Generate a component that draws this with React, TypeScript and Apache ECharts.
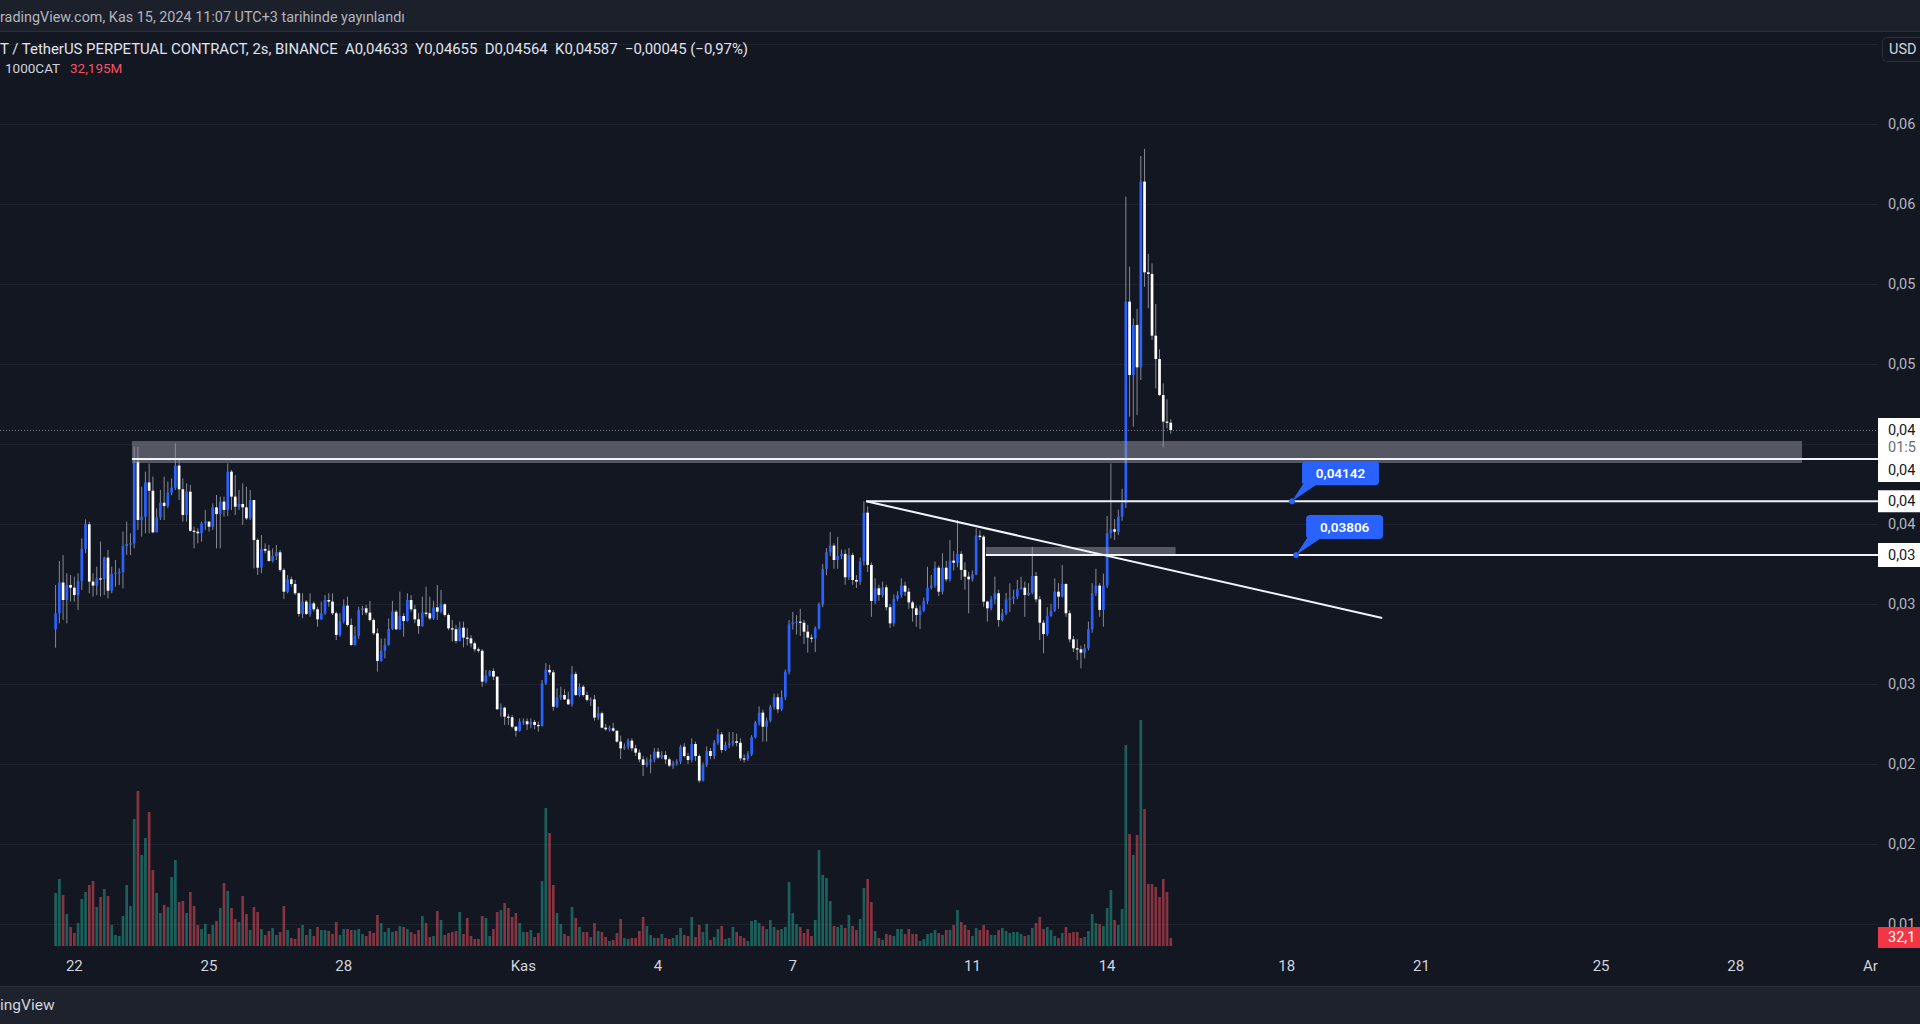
import React, { useEffect, useRef } from "react";
import * as echarts from "echarts";

// ---------- data ----------
const tickIdx = [5, 41, 77, 125, 161, 197, 245, 281, 329, 365, 413, 449, 485];
const tickLabels = ["22", "25", "28", "Kas", "4", "7", "11", "14", "18", "21", "25", "28", "Ar"];

const firstOpen = 0.03342;
const closes = [
  0.03442, 0.03635, 0.03525, 0.03619, 0.03602, 0.03556, 0.03644, 0.03844, 0.03998, 0.0364,
  0.03615, 0.0366, 0.03656, 0.0379, 0.03583, 0.03688, 0.03696, 0.037, 0.03862, 0.03875,
  0.03879, 0.0439, 0.04025, 0.04046, 0.0426, 0.04208, 0.03948, 0.04042, 0.04133, 0.04113,
  0.04196, 0.04227, 0.04365, 0.04217, 0.04056, 0.04202, 0.03958, 0.03952, 0.03942, 0.04004,
  0.04015, 0.03983, 0.04104, 0.04062, 0.0414, 0.04088, 0.04327, 0.04171, 0.04108, 0.04125,
  0.04104, 0.04035, 0.0415, 0.039, 0.03727, 0.03844, 0.03833, 0.03769, 0.038, 0.03823,
  0.03713, 0.03577, 0.03654, 0.03625, 0.03567, 0.03438, 0.03515, 0.03438, 0.03504, 0.03467,
  0.03404, 0.03442, 0.03525, 0.03515, 0.03442, 0.03306, 0.0339, 0.0349, 0.03369, 0.03244,
  0.033, 0.03463, 0.03473, 0.03446, 0.034, 0.03317, 0.03144, 0.03208, 0.03244, 0.03344,
  0.03452, 0.03342, 0.03425, 0.03394, 0.03525, 0.03467, 0.03404, 0.03362, 0.03446, 0.03442,
  0.0341, 0.03479, 0.03452, 0.03498, 0.03431, 0.03348, 0.03342, 0.03269, 0.03352, 0.0329,
  0.03285, 0.03254, 0.03217, 0.03208, 0.03015, 0.03052, 0.03081, 0.03046, 0.02842, 0.02852,
  0.02796, 0.02792, 0.02733, 0.02708, 0.02765, 0.02767, 0.02748, 0.02763, 0.02744, 0.02738,
  0.03004, 0.03088, 0.03073, 0.02858, 0.02917, 0.02931, 0.02904, 0.02873, 0.03063, 0.02931,
  0.02983, 0.02931, 0.029, 0.02904, 0.0279, 0.02817, 0.02727, 0.02717, 0.02723, 0.02708,
  0.0264, 0.02598, 0.02608, 0.02646, 0.02598, 0.02571, 0.02529, 0.02494, 0.0251, 0.02529,
  0.02577, 0.0254, 0.02556, 0.02529, 0.0249, 0.02504, 0.02515, 0.02608, 0.0255, 0.02525,
  0.02625, 0.0255, 0.02396, 0.02494, 0.02581, 0.0255, 0.02633, 0.02685, 0.02588, 0.02619,
  0.02629, 0.02642, 0.02633, 0.02535, 0.02533, 0.0256, 0.02667, 0.02758, 0.02821, 0.02733,
  0.02771, 0.02858, 0.02917, 0.02842, 0.02917, 0.03077, 0.03373, 0.03385, 0.0339, 0.03383,
  0.03327, 0.0329, 0.03285, 0.03348, 0.03498, 0.03719, 0.03823, 0.03865, 0.03775, 0.038,
  0.03813, 0.03667, 0.03806, 0.0365, 0.0364, 0.03765, 0.04071, 0.03744, 0.03519, 0.03598,
  0.03556, 0.03604, 0.0348, 0.03379, 0.03531, 0.03556, 0.03615, 0.03577, 0.0351, 0.03473,
  0.03431, 0.03458, 0.03517, 0.03602, 0.03615, 0.03727, 0.03577, 0.03727, 0.03654, 0.03771,
  0.03758, 0.03813, 0.03713, 0.03671, 0.03654, 0.03685, 0.03927, 0.03921, 0.03515, 0.03473,
  0.03529, 0.03567, 0.034, 0.03442, 0.03529, 0.03535, 0.03546, 0.03592, 0.03602, 0.03556,
  0.03571, 0.03675, 0.03529, 0.03383, 0.03312, 0.03425, 0.03458, 0.03577, 0.03546, 0.03625,
  0.03442, 0.03279, 0.03223, 0.03217, 0.03196, 0.03223, 0.03342, 0.03567, 0.03615, 0.03463,
  0.03615, 0.03942, 0.03967, 0.03952, 0.04046, 0.04129, 0.0539, 0.04931, 0.05244, 0.04979,
  0.0614, 0.05573, 0.05563, 0.05177, 0.05031, 0.04806, 0.0464, 0.04633, 0.04587,
];
const highs = [
  0.03619, 0.03769, 0.03806, 0.03692, 0.03681, 0.03671, 0.03692, 0.0391, 0.04029, 0.04015,
  0.03692, 0.03733, 0.0389, 0.03796, 0.03838, 0.03733, 0.03775, 0.03723, 0.03952, 0.04015,
  0.03942, 0.04483, 0.04483, 0.04233, 0.04327, 0.04379, 0.04296, 0.04098, 0.04213, 0.04296,
  0.04265, 0.04285, 0.04504, 0.0441, 0.04285, 0.04254, 0.04244, 0.03983, 0.03973, 0.04015,
  0.04088, 0.04015, 0.04129, 0.04181, 0.04171, 0.04171, 0.04379, 0.04338, 0.04306, 0.04213,
  0.04254, 0.04233, 0.04213, 0.0415, 0.0391, 0.03931, 0.03879, 0.03869, 0.03848, 0.03869,
  0.03838, 0.03723, 0.03681, 0.03671, 0.0365, 0.03571, 0.03567, 0.03525, 0.03567, 0.03515,
  0.03483, 0.03515, 0.03556, 0.03567, 0.03567, 0.03452, 0.03442, 0.03529, 0.03546, 0.0341,
  0.03358, 0.03483, 0.03488, 0.03494, 0.0352, 0.0341, 0.03348, 0.03285, 0.03285, 0.0341,
  0.0352, 0.03463, 0.03577, 0.03442, 0.03567, 0.03556, 0.03494, 0.03442, 0.03546, 0.03608,
  0.03546, 0.0352, 0.03619, 0.03588, 0.03504, 0.03442, 0.034, 0.03369, 0.0339, 0.0339,
  0.03348, 0.03306, 0.03265, 0.03229, 0.03217, 0.03088, 0.03088, 0.03098, 0.03046, 0.02879,
  0.02858, 0.02813, 0.02806, 0.02738, 0.02785, 0.02785, 0.02785, 0.02785, 0.02775, 0.02765,
  0.03025, 0.0313, 0.0312, 0.03088, 0.02973, 0.02983, 0.02967, 0.02952, 0.03113, 0.03077,
  0.03004, 0.02994, 0.02952, 0.02917, 0.02931, 0.02858, 0.02827, 0.0275, 0.0274, 0.02758,
  0.02681, 0.02677, 0.02629, 0.0266, 0.0266, 0.0262, 0.0259, 0.0255, 0.0254, 0.0256,
  0.026, 0.026, 0.0258, 0.0258, 0.0254, 0.0252, 0.0253, 0.0262, 0.0263, 0.0257,
  0.0266, 0.0264, 0.0256, 0.0251, 0.0261, 0.026, 0.0265, 0.0272, 0.027, 0.0264,
  0.027, 0.027, 0.0269, 0.0266, 0.0256, 0.0258, 0.0268, 0.0277, 0.0286, 0.0284,
  0.0279, 0.0287, 0.0294, 0.0294, 0.0296, 0.0309, 0.034, 0.0345, 0.0343, 0.0347,
  0.034, 0.0337, 0.0331, 0.0336, 0.0351, 0.0375, 0.0385, 0.0395, 0.0388, 0.0392,
  0.0384, 0.0384, 0.0385, 0.0382, 0.0368, 0.0379, 0.04142, 0.0411, 0.0376, 0.0366,
  0.0362, 0.0364, 0.0362, 0.035, 0.0356, 0.0358, 0.0366, 0.0364, 0.036, 0.0352,
  0.0349, 0.0349, 0.0354, 0.03733, 0.03681, 0.03765, 0.0374, 0.03817, 0.0377, 0.039,
  0.0383, 0.04025, 0.0383, 0.0376, 0.037, 0.0371, 0.03973, 0.0396, 0.0393, 0.0352,
  0.0355, 0.03671, 0.0359, 0.0347, 0.0357, 0.03629, 0.0359, 0.0365, 0.0367, 0.0364,
  0.0363, 0.03858, 0.037, 0.0355, 0.034, 0.0348, 0.035, 0.0366, 0.0363, 0.03744,
  0.0363, 0.0346, 0.033, 0.0328, 0.0324, 0.0325, 0.0339, 0.0363, 0.0372, 0.0363,
  0.0369, 0.0405, 0.04379, 0.0403, 0.0409, 0.0422, 0.06046, 0.05608, 0.05285, 0.05344,
  0.063, 0.06344, 0.05688, 0.05629, 0.05375, 0.05092, 0.04879, 0.04779, 0.04655,
];
const lows = [
  0.03227, 0.03379, 0.034, 0.03379, 0.03515, 0.03515, 0.03463, 0.03588, 0.03817, 0.03567,
  0.03546, 0.03556, 0.03546, 0.03556, 0.03535, 0.03567, 0.03608, 0.03619, 0.03598, 0.03806,
  0.03806, 0.03848, 0.03963, 0.03921, 0.03942, 0.03942, 0.03942, 0.03973, 0.04025, 0.04025,
  0.041, 0.0418, 0.04213, 0.0415, 0.04015, 0.04015, 0.03952, 0.03848, 0.03879, 0.0389,
  0.03963, 0.03952, 0.03963, 0.03848, 0.03848, 0.04046, 0.0405, 0.04088, 0.04056, 0.04088,
  0.03994, 0.04025, 0.04025, 0.03723, 0.03681, 0.03692, 0.03817, 0.03765, 0.0376, 0.03775,
  0.03702, 0.03531, 0.03567, 0.03608, 0.03556, 0.03421, 0.03411, 0.03431, 0.03421, 0.03452,
  0.03358, 0.034, 0.03431, 0.03483, 0.03431, 0.03275, 0.03296, 0.03379, 0.03358, 0.03238,
  0.0324, 0.0328, 0.03431, 0.03431, 0.0339, 0.03306, 0.03077, 0.0314, 0.0316, 0.0324,
  0.03337, 0.03337, 0.03337, 0.03296, 0.0339, 0.03452, 0.0338, 0.03313, 0.03358, 0.03421,
  0.034, 0.034, 0.034, 0.03442, 0.03421, 0.03337, 0.03265, 0.03254, 0.03265, 0.03229,
  0.0324, 0.03229, 0.03202, 0.03196, 0.02983, 0.03004, 0.03046, 0.03025, 0.02838, 0.02796,
  0.02744, 0.02744, 0.02723, 0.02671, 0.02702, 0.02744, 0.02713, 0.02723, 0.02717, 0.02702,
  0.02733, 0.02994, 0.03056, 0.02833, 0.0285, 0.029, 0.029, 0.02869, 0.02858, 0.02925,
  0.02921, 0.02921, 0.0289, 0.02863, 0.02771, 0.02775, 0.02723, 0.02708, 0.02702, 0.02702,
  0.02633, 0.02531, 0.02588, 0.0259, 0.0258, 0.0255, 0.0251, 0.02425, 0.0248, 0.02442,
  0.0251, 0.0253, 0.0253, 0.025, 0.0248, 0.0247, 0.0249, 0.025, 0.0254, 0.025,
  0.0251, 0.0252, 0.02383, 0.0239, 0.0248, 0.0253, 0.0253, 0.0262, 0.0257, 0.0258,
  0.026, 0.0261, 0.0261, 0.0252, 0.0251, 0.0252, 0.0255, 0.0266, 0.0274, 0.0264,
  0.0264, 0.0276, 0.0284, 0.0282, 0.0283, 0.029, 0.0306, 0.0334, 0.0331, 0.033,
  0.0325, 0.03196, 0.0326, 0.032, 0.0334, 0.0348, 0.0368, 0.038, 0.0372, 0.0372,
  0.0378, 0.0362, 0.0365, 0.0362, 0.036, 0.0362, 0.0374, 0.037, 0.0342, 0.035,
  0.0352, 0.0354, 0.0346, 0.0335, 0.0336, 0.0352, 0.0354, 0.0355, 0.0347, 0.0339,
  0.03358, 0.03344, 0.0345, 0.035, 0.0359, 0.036, 0.0355, 0.0356, 0.0364, 0.0364,
  0.0371, 0.0373, 0.0365, 0.0359, 0.03442, 0.0364, 0.0368, 0.039, 0.03483, 0.0339,
  0.0346, 0.035, 0.03358, 0.0339, 0.0343, 0.0345, 0.035, 0.0353, 0.0359, 0.0342,
  0.0355, 0.0356, 0.0351, 0.03275, 0.03192, 0.033, 0.0342, 0.0345, 0.0347, 0.0354,
  0.0342, 0.0326, 0.032, 0.0315, 0.03098, 0.0316, 0.0321, 0.0332, 0.0355, 0.0342,
  0.03358, 0.036, 0.0391, 0.039, 0.0393, 0.0402, 0.041, 0.04671, 0.04608, 0.04681,
  0.049, 0.05483, 0.05348, 0.0515, 0.04848, 0.048, 0.04479, 0.04598, 0.04564,
];
// volume, millions
const volumes = [
  212, 268, 204, 128, 76, 52, 92, 188, 216, 244,
  260, 156, 196, 228, 200, 84, 44, 40, 120, 244,
  160, 508, 620, 364, 432, 536, 304, 212, 132, 164,
  156, 276, 344, 176, 180, 132, 216, 160, 84, 68,
  88, 48, 84, 100, 152, 252, 220, 152, 108, 96,
  200, 128, 64, 156, 136, 68, 44, 60, 72, 44,
  56, 160, 64, 32, 28, 72, 84, 44, 68, 40,
  76, 64, 64, 60, 48, 96, 44, 68, 68, 64,
  64, 68, 48, 40, 60, 52, 124, 92, 56, 72,
  56, 60, 80, 76, 68, 56, 48, 64, 120, 92,
  36, 40, 140, 104, 44, 52, 56, 60, 136, 48,
  112, 40, 28, 28, 120, 112, 40, 68, 136, 144,
  172, 152, 116, 132, 92, 56, 56, 64, 36, 52,
  260, 552, 452, 244, 132, 88, 48, 40, 156, 112,
  76, 56, 56, 36, 92, 60, 56, 36, 20, 24,
  52, 108, 32, 28, 32, 32, 60, 116, 80, 44,
  32, 32, 48, 32, 28, 32, 44, 72, 44, 40,
  116, 36, 84, 56, 88, 24, 36, 68, 80, 28,
  32, 76, 56, 40, 32, 20, 100, 104, 92, 80,
  68, 104, 76, 64, 68, 76, 256, 132, 88, 76,
  52, 68, 40, 104, 384, 284, 272, 180, 80, 76,
  84, 72, 124, 80, 64, 108, 232, 268, 176, 60,
  32, 24, 48, 44, 40, 68, 68, 48, 68, 48,
  48, 20, 28, 48, 52, 64, 52, 44, 64, 64,
  84, 144, 96, 84, 64, 40, 72, 64, 84, 64,
  44, 44, 64, 72, 60, 52, 56, 56, 48, 40,
  44, 72, 92, 116, 68, 76, 64, 40, 32, 52,
  76, 52, 56, 56, 32, 36, 60, 128, 92, 88,
  80, 152, 224, 104, 84, 148, 804, 448, 364, 444,
  904, 548, 248, 248, 236, 196, 268, 216, 32.195,
];

const currentPrice = 0.04587;
const zoneTop = 0.04519;
const zoneBottom = 0.04381;
const zoneStart = 20.4;
const zoneEnd = 466.7;
const rayLevels = [0.04406, 0.04142, 0.03806];
const rayStarts = [20.4, 216.6, 248.6];
const trendFrom = [216.6, 0.04142];
const trendTo = [354.5, 0.03413];
const box2 = { top: 0.03856, bottom: 0.03806, start: 248.6, end: 299.3 };
const noteIdx = [330.4, 331.5];
const noteVals = [0.04142, 0.03806];
const noteTexts = ["0,04142", "0,03806"];
const hiddenAxisLevels = [0.045, 0.07];

const headerText = "radingView.com, Kas 15, 2024 11:07 UTC+3 tarihinde yayınlandı";
const titleText =
  "T / TetherUS PERPETUAL CONTRACT, 2s, BINANCE  A0,04633  Y0,04655  D0,04564  K0,04587  \u22120,00045 (\u22120,97%)";
const volName = "1000CAT";
const volValueText = "32,195M";
// right-edge labels as far as the frame shows them
const countdownShown = "01:5";
const volLabelShown = "32,1";
const currencyShown = "USD";

// ---------- styles ----------
const BG = "#131722";
const UP = "#2962ff";
const DOWN = "#ffffff";
const WICK = "#868993";
const UP_VOL = "rgba(34,171,148,0.5)";
const DOWN_VOL = "rgba(247,82,95,0.5)";
const FONT = "Roboto, 'Noto Sans', 'DejaVu Sans', sans-serif";
const X_MIN = -14.86;
const X_MAX = 487.0;
const PLOT_RIGHT = 1878;
const AXIS_FS = 14.5;

const fmt = (v: number) => v.toFixed(5).replace(".", ",");
const shown = (v: number) => fmt(v).slice(0, 4);

function txt(text: string, x: number, y: number, fill: string, fontSize: number, extra: any = {}) {
  return {
    type: "text",
    x,
    y,
    z: 30,
    style: {
      text,
      fill,
      fontSize,
      fontFamily: FONT,
      verticalAlign: "middle",
      align: "left",
      ...extra,
    },
  };
}

export default function App() {
  const ref = useRef<HTMLDivElement>(null);

  useEffect(() => {
    const chart = echarts.init(ref.current as HTMLDivElement, null, { renderer: "svg" });

    const candleData = closes.map((c, i) => [i, i === 0 ? firstOpen : closes[i - 1], c, lows[i], highs[i]]);
    const volData = volumes.map((v, i) => ({
      value: [i, v],
      itemStyle: { color: candleData[i][2] >= candleData[i][1] ? UP_VOL : DOWN_VOL },
    }));

    const renderCandle = (params: any, api: any) => {
      const i = api.value(0);
      const o = api.value(1);
      const c = api.value(2);
      const l = api.value(3);
      const h = api.value(4);
      const po = api.coord([i, o]);
      const yc = api.coord([i, c])[1];
      const yl = api.coord([i, l])[1];
      const yh = api.coord([i, h])[1];
      const x = po[0];
      const top = Math.min(po[1], yc);
      const bot = Math.max(po[1], yc);
      return {
        type: "group",
        children: [
          {
            type: "line",
            shape: { x1: x, y1: Math.min(yh, top), x2: x, y2: Math.max(yl, bot) },
            style: { stroke: WICK, lineWidth: 1 },
          },
          {
            type: "rect",
            shape: { x: x - 1.35, y: top, width: 2.7, height: Math.max(bot - top, 1.2) },
            style: { fill: c >= o ? UP : DOWN },
          },
        ],
      };
    };

    chart.setOption({
      animation: false,
      backgroundColor: BG,
      grid: [
        { left: 0, right: 1920 - PLOT_RIGHT, top: 44, height: 880, containLabel: false, outerBoundsMode: "none" },
        { left: 0, right: 1920 - PLOT_RIGHT, top: 646, height: 300, containLabel: false, outerBoundsMode: "none" },
      ],
      xAxis: [
        { type: "value", gridIndex: 0, min: X_MIN, max: X_MAX, show: false, splitLine: { show: false } },
        {
          type: "value",
          gridIndex: 1,
          min: X_MIN,
          max: X_MAX,
          axisLine: { show: false },
          axisTick: { show: false },
          splitLine: { show: false },
          axisLabel: {
            customValues: tickIdx,
            margin: 12,
            color: "#d1d4dc",
            fontSize: 15,
            fontFamily: FONT,
            formatter: (v: number) => {
              const k = tickIdx.indexOf(Math.round(v));
              return k >= 0 ? tickLabels[k] : "";
            },
          },
        },
      ],
      yAxis: [
        {
          type: "value",
          gridIndex: 0,
          position: "right",
          min: 0.015,
          max: 0.07,
          interval: 0.005,
          axisLine: { show: false },
          axisTick: { show: false },
          splitLine: { lineStyle: { color: "#1f2330", width: 1 } },
          axisLabel: {
            margin: 10,
            align: "left",
            color: "#b2b5be",
            fontSize: AXIS_FS,
            fontFamily: FONT,
            formatter: (v: number) =>
              hiddenAxisLevels.some((h) => Math.abs(h - v) < 1e-6) ? "" : shown(v),
          },
        },
        {
          type: "value",
          gridIndex: 1,
          min: 0,
          max: 1200,
          show: false,
          splitLine: { show: false },
        },
      ],
      series: [
        {
          type: "bar",
          xAxisIndex: 1,
          yAxisIndex: 1,
          barWidth: 2.7,
          data: volData,
          z: 1,
        },
        {
          type: "custom",
          xAxisIndex: 0,
          yAxisIndex: 0,
          renderItem: renderCandle,
          encode: { x: 0, y: [1, 2, 3, 4] },
          data: candleData,
          z: 3,
        },
      ],
    });

    const yOf = (p: number) => chart.convertToPixel({ yAxisIndex: 0 }, p) as unknown as number;
    const xOf = (i: number) => chart.convertToPixel({ xAxisIndex: 0 }, i) as unknown as number;
    const yVol = (v: number) => chart.convertToPixel({ yAxisIndex: 1 }, v) as unknown as number;

    const g: any[] = [];
    const ZONE_FILL = "rgba(149,152,161,0.5)";

    // header & footer strips
    g.push({ type: "rect", z: 25, shape: { x: 0, y: 0, width: 1920, height: 31 }, style: { fill: "#1c202b" } });
    g.push({ type: "line", z: 25, shape: { x1: 0, y1: 31.5, x2: 1920, y2: 31.5 }, style: { stroke: "#2a2e39", lineWidth: 1 } });
    g.push(txt(headerText, 0, 17, "#b2b5be", 14.4));
    g.push({ type: "rect", z: 25, shape: { x: 0, y: 987, width: 1920, height: 37 }, style: { fill: "#1e222d" } });
    g.push({ type: "line", z: 25, shape: { x1: 0, y1: 986.5, x2: 1920, y2: 986.5 }, style: { stroke: "#2a2e39", lineWidth: 1 } });
    g.push(txt("ingView", 0, 1005, "#d1d4dc", 15.5));

    // legend
    g.push(txt(titleText, 0, 49, "#e0e3eb", 14.9));
    g.push(txt(volName, 5, 68, "#d1d4dc", 13.5));
    g.push(txt(volValueText, 70, 68, "#f7525f", 13.5));

    // current price dotted line
    const yCur = yOf(currentPrice);
    g.push({
      type: "line",
      z: 4,
      shape: { x1: 0, y1: Math.round(yCur) + 0.5, x2: PLOT_RIGHT, y2: Math.round(yCur) + 0.5 },
      style: { stroke: "#787b86", lineWidth: 1, lineDash: [1, 2] },
    });

    // zone rectangle
    const zx1 = xOf(zoneStart);
    const zx2 = xOf(zoneEnd);
    const zy1 = yOf(zoneTop);
    const zy2 = yOf(zoneBottom);
    g.push({ type: "rect", z: 5, shape: { x: zx1, y: zy1, width: zx2 - zx1, height: zy2 - zy1 }, style: { fill: ZONE_FILL } });

    // small rectangle
    const bx1 = xOf(box2.start);
    const bx2 = xOf(box2.end);
    const by1 = yOf(box2.top);
    const by2 = yOf(box2.bottom);
    g.push({ type: "rect", z: 5, shape: { x: bx1, y: by1, width: bx2 - bx1, height: by2 - by1 }, style: { fill: ZONE_FILL } });

    // horizontal rays
    rayLevels.forEach((lv, k) => {
      const y = yOf(lv);
      g.push({
        type: "line",
        z: 6,
        shape: { x1: xOf(rayStarts[k]), y1: y, x2: PLOT_RIGHT, y2: y },
        style: { stroke: "#f0f3fa", lineWidth: 2 },
      });
    });

    // trend line
    g.push({
      type: "line",
      z: 6,
      shape: { x1: xOf(trendFrom[0]), y1: yOf(trendFrom[1]), x2: xOf(trendTo[0]), y2: yOf(trendTo[1]) },
      style: { stroke: "#f0f3fa", lineWidth: 2 },
    });

    // price notes (callouts)
    noteIdx.forEach((ix, k) => {
      const px = xOf(ix);
      const py = yOf(noteVals[k]);
      g.push({
        type: "polygon",
        z: 7,
        shape: { points: [[px + 11, py - 17], [px + 25, py - 17], [px, py]] },
        style: { fill: UP },
      });
      g.push({
        type: "rect",
        z: 7,
        shape: { x: px + 10, y: py - 40, width: 77, height: 24, r: 4 },
        style: { fill: UP },
      });
      g.push({ type: "circle", z: 7, shape: { cx: px, cy: py, r: 3 }, style: { fill: UP } });
      g.push({
        type: "text",
        z: 8,
        x: px + 48.5,
        y: py - 28,
        style: {
          text: noteTexts[k],
          fill: "#ffffff",
          fontSize: 13.5,
          fontWeight: 600,
          fontFamily: FONT,
          align: "center",
          verticalAlign: "middle",
        },
      });
    });

    // right axis labels
    const yL0 = yOf(rayLevels[0]);
    const yL1 = yOf(rayLevels[1]);
    const yL2 = yOf(rayLevels[2]);
    const boxFill = "#ffffff";
    const boxText = "#131722";
    const boxATop = yCur - 12;
    const boxABottom = yL0 + 23;
    g.push({ type: "rect", z: 20, shape: { x: PLOT_RIGHT, y: boxATop, width: 60, height: boxABottom - boxATop }, style: { fill: boxFill } });
    g.push(txt(shown(currentPrice), 1888, yCur, boxText, AXIS_FS));
    g.push(txt(countdownShown, 1888, yCur + 17, "#6a6d78", AXIS_FS));
    g.push(txt(shown(rayLevels[0]), 1888, yL0 + 11, boxText, AXIS_FS));
    g.push({ type: "rect", z: 20, shape: { x: PLOT_RIGHT, y: yL1 - 11, width: 60, height: 22 }, style: { fill: boxFill } });
    g.push(txt(shown(rayLevels[1]), 1888, yL1, boxText, AXIS_FS));
    g.push({ type: "rect", z: 20, shape: { x: PLOT_RIGHT, y: yL2 - 12, width: 60, height: 24 }, style: { fill: boxFill } });
    g.push(txt(shown(rayLevels[2]), 1888, yL2, boxText, AXIS_FS));

    // volume label
    const yv = yVol(volumes[volumes.length - 1]);
    g.push({ type: "rect", z: 20, shape: { x: PLOT_RIGHT, y: yv - 11, width: 60, height: 21 }, style: { fill: "#f23645" } });
    g.push(txt(volLabelShown, 1888, yv - 0.5, "#ffffff", AXIS_FS));

    // currency button
    g.push({
      type: "rect",
      z: 20,
      shape: { x: 1882.5, y: 37.5, width: 52, height: 24, r: 4 },
      style: { fill: BG, stroke: "#2a2e39", lineWidth: 1 },
    });
    g.push(txt(currencyShown, 1889, 49.5, "#d1d4dc", 14.5));

    chart.setOption({ graphic: g });

    return () => {
      chart.dispose();
    };
  }, []);

  return <div ref={ref} style={{ position: "fixed", left: 0, top: 0, width: 1920, height: 1024 }} />;
}
